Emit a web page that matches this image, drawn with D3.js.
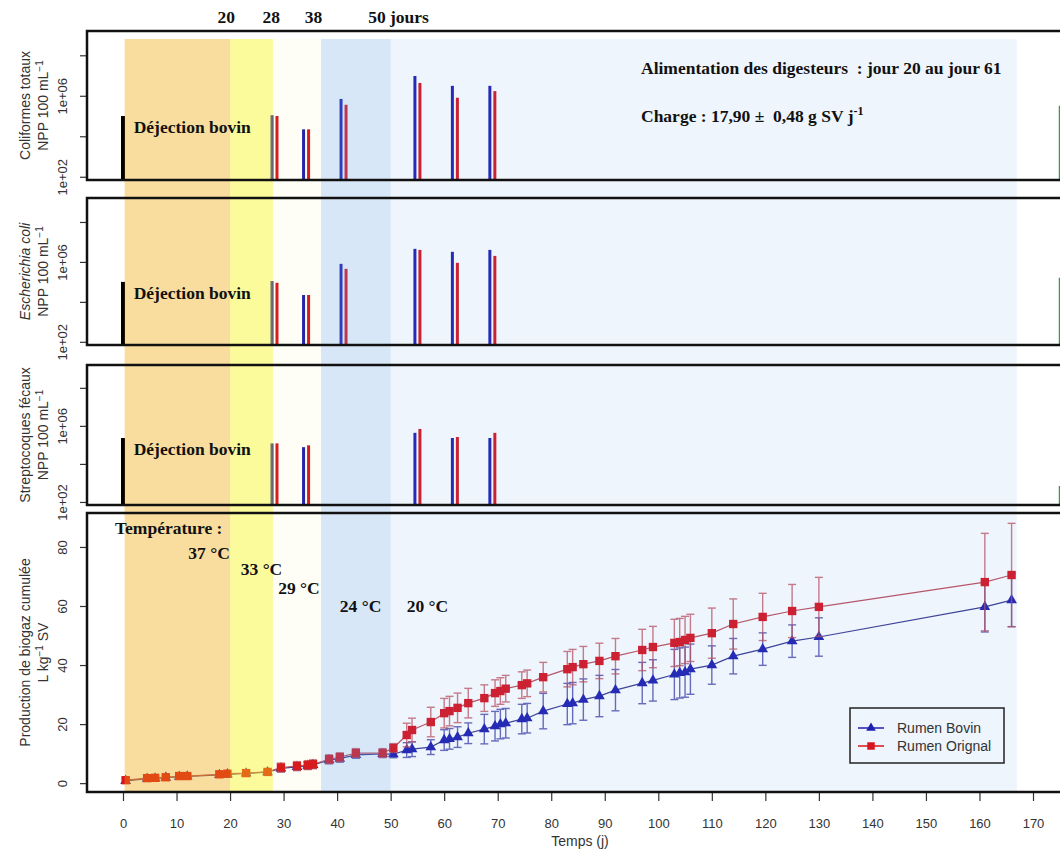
<!DOCTYPE html>
<html>
<head>
<meta charset="utf-8">
<title>Biogaz et indicateurs fécaux</title>
<style>
  body { margin: 0; background: #fff; }
  svg { display: block; }
  .axis text { font: 13px "Liberation Sans", Arial, sans-serif; fill: #333; }
  .axis line { stroke: #333; stroke-width: 1.2px; }
  .ytitle { font: 14px "Liberation Sans", Arial, sans-serif; fill: #333; }
  .note { font: bold 17.5px "Liberation Serif", "Times New Roman", serif; fill: #111; white-space: pre; }
  .legend text { font: 14px "Liberation Sans", Arial, sans-serif; fill: #333; }
</style>
</head>
<body>
<div id="chart"></div>
<script src="https://d3js.org/d3.v7.min.js"></script>
<script>
// Biogaz cumulé (L kg-1 SV) : jours de mesure, moyennes et écarts
const days = [0.5, 4.5, 6, 8, 10.5, 12, 18, 19.5, 23, 27, 29.5, 32.5, 34.5, 35.5, 38.5, 40.5, 43.5, 48.5, 50.5,
  53, 54, 57.5, 60, 61, 62.5, 64.5, 67.5, 69.5, 70.5, 71.5, 74.5, 75.5, 78.5, 83, 84, 86, 89, 92, 97, 99,
  103, 104, 105, 106, 110, 114, 119.5, 125, 130, 161, 166];
const bovinBiogaz = [0.8, 1.5, 1.6, 1.9, 2.2, 2.3, 2.8, 3.0, 3.3, 3.7, 5.0, 5.5, 5.9, 6.2, 7.8, 8.3, 9.6, 9.9, 9.8,
  11.2, 11.5, 12.2, 14.6, 15.0, 15.6, 16.9, 18.3, 19.3, 20.0, 20.3, 21.7, 22.0, 24.4, 26.8, 27.1, 28.3, 29.5, 31.5, 33.9, 34.8,
  36.8, 37.3, 37.6, 38.6, 40.0, 43.0, 45.4, 48.1, 49.5, 59.7, 62.0];
const bovinErr = [0.6, 0.6, 0.6, 0.6, 0.6, 0.6, 0.6, 0.6, 0.6, 0.6, 1.2, 1.2, 1.2, 1.2, 1.2, 1.2, 1.2, 1.2, 1.2,
  2.5, 2.5, 2.5, 3.5, 3.5, 3.5, 3.5, 5, 5, 5, 5, 5, 5, 6, 7, 7, 7, 7, 7, 7, 7,
  8.5, 8.5, 8.5, 8.5, 6.5, 6, 5.5, 5.5, 6.5, 8.5, 9];
const orignalBiogaz = [1.0, 1.7, 1.8, 2.0, 2.4, 2.4, 3.0, 3.2, 3.4, 3.8, 5.3, 5.8, 6.1, 6.4, 8.1, 8.8, 10.2, 10.2, 11.9,
  16.3, 18.0, 20.7, 23.7, 24.4, 25.5, 27.1, 28.8, 30.5, 31.2, 32.0, 33.2, 33.8, 35.9, 38.6, 39.3, 40.3, 41.4, 43.0, 45.1, 46.1,
  47.5, 47.8, 48.5, 49.2, 50.8, 53.9, 56.3, 58.3, 59.7, 68.1, 70.5];
const orignalErr = [0.8, 0.8, 0.8, 0.8, 0.8, 0.8, 0.8, 0.8, 0.8, 0.8, 1.5, 1.5, 1.5, 1.5, 1.5, 1.5, 1.5, 1.5, 1.5,
  4, 4, 5, 5, 5, 5, 5, 4.5, 4.5, 4.5, 4.5, 4.5, 4.5, 5, 6, 6, 6, 6, 6, 7, 7,
  8, 8, 8, 8, 8.5, 8.5, 8, 9, 10, 16.5, 17.5];

// Dénombrements (NPP 100 mL-1)
const sampleDays = [28.3, 34.2, 41.2, 55, 62, 69];
const dejectionDay = 0;
const extraDay = 175;
const coliDejection = 1e5;
const coliBovin = [1.1e5, 2.2e4, 7e5, 9.5e6, 3.1e6, 3.1e6];
const coliOrignal = [1e5, 2.2e4, 3.6e5, 4.3e6, 8e5, 1.7e6];
const coliExtra = 3.2e5;
const ecoliDejection = 1e5;
const ecoliBovin = [1.1e5, 2.2e4, 8e5, 4.5e6, 3.2e6, 4e6];
const ecoliOrignal = [9e4, 2.2e4, 4.5e5, 4e6, 9e5, 2e6];
const ecoliExtra = 1.6e5;
const streptoDejection = 2.3e5;
const streptoBovin = [1.2e5, 7.6e4, null, 4.3e5, 2.3e5, 2.3e5];
const streptoOrignal = [1.2e5, 9.5e4, null, 6.9e5, 2.6e5, 4.3e5];
const streptoExtra = 7e2;

// Phases de température (voiles transparents posés sur les tracés)
const phaseStart = [0.3, 20, 28, 37, 50];
const phaseEnd = [20, 28, 37, 50, 167];
const phaseColor = ["#f0a500", "#f5f500", "#f0f000", "#5f9fe3", "#5f9fe3"];
const phaseAlpha = [0.38, 0.39, 0.035, 0.25, 0.1];
const phaseDays = ["20", "28", "38", "50 jours"];
const phaseDayPos = [19.3, 27.7, 35.6, 45.8];
const tempLabels = ["37 °C", "33 °C", "29 °C", "24 °C", "20 °C"];
const tempDay = [12.2, 22, 29, 40.5, 53];
const tempValue = [76, 70.5, 64, 58, 58];

const logTicks = [1e2, 1e4, 1e6, 1e8];
const biogazTicks = [0, 20, 40, 60, 80];
const xTicks = d3.range(0, 171, 10);

const W = 1060, H = 852;
const left = 87, right = 1075;
const svg = d3.select("#chart").append("svg").attr("width", W).attr("height", H);

const x = d3.scaleLinear().domain([0, 170]).range([123, 1033]);

const panels = [
  {top: 31, bottom: 180, title: "Coliformes totaux", italic: false, dej: coliDejection, bov: coliBovin, ori: coliOrignal, extra: coliExtra},
  {top: 198, bottom: 345, title: "Escherichia coli", italic: true, dej: ecoliDejection, bov: ecoliBovin, ori: ecoliOrignal, extra: ecoliExtra},
  {top: 365, bottom: 505, title: "Streptocoques fécaux", italic: false, dej: streptoDejection, bov: streptoBovin, ori: streptoOrignal, extra: streptoExtra}
];
const bio = {top: 513, bottom: 792};
const yBio = d3.scaleLinear().domain([-3, 91.5]).range([bio.bottom, bio.top]);

const blue = "#1f1fb0", red = "#d8141f";

const dataLayer = svg.append("g");
const bandLayer = svg.append("g");
const topLayer = svg.append("g");

function rotateYLabels(g, offset) {
  g.selectAll(".tick text")
    .attr("x", null).attr("y", null).attr("dy", "0.35em")
    .attr("text-anchor", "middle")
    .attr("transform", `translate(${-offset},0) rotate(-90)`);
}

function yTitle(lines, yc) {
  lines.forEach((l, i) => {
    const t = topLayer.append("text").attr("class", "ytitle")
      .attr("text-anchor", "middle")
      .attr("transform", `translate(${30 + i * 18},${yc}) rotate(-90)`);
    l.forEach(part => {
      const s = t.append("tspan").text(part.t);
      if (part.i) s.attr("font-style", "italic");
      if (part.sup) s.attr("baseline-shift", "super").attr("font-size", "10px");
    });
  });
}

function note(g, txt, xx, yy, anchor) {
  return g.append("text").attr("class", "note")
    .attr("x", xx).attr("y", yy)
    .attr("text-anchor", anchor || "start")
    .text(txt);
}

// panneaux de dénombrement
panels.forEach(p => {
  const y = d3.scaleLog().domain([Math.pow(10, 1.84), Math.pow(10, 9.2)]).range([p.bottom, p.top]);

  const bar = (day, v, color, dx, w) => {
    if (v == null) return;
    dataLayer.append("line")
      .attr("x1", x(day) + dx).attr("x2", x(day) + dx)
      .attr("y1", p.bottom).attr("y2", y(v))
      .attr("stroke", color).attr("stroke-width", w);
  };
  bar(dejectionDay, p.dej, "#000", 0, 4);
  sampleDays.forEach((d, i) => {
    bar(d, p.bov[i], blue, -2.5, 3);
    bar(d, p.ori[i], red, 2.5, 3);
  });
  bar(extraDay, p.extra, "#3c9a3c", 0, 2);

  note(topLayer, "Déjection bovin", x(2), y(p.dej) + 17);

  const ax = topLayer.append("g").attr("class", "axis")
    .attr("transform", `translate(${left},0)`)
    .call(d3.axisLeft(y).tickValues(logTicks).tickSize(7)
      .tickFormat(d => d === 1e2 ? "1e+02" : d === 1e6 ? "1e+06" : ""));
  ax.select(".domain").remove();
  rotateYLabels(ax, 25);

  topLayer.append("rect")
    .attr("x", left).attr("y", p.top)
    .attr("width", right - left).attr("height", p.bottom - p.top)
    .attr("fill", "none").attr("stroke", "#111").attr("stroke-width", 2.5);

  yTitle([[{t: p.title, i: p.italic}], [{t: "NPP 100 mL"}, {t: "−1", sup: true}]], (p.top + p.bottom) / 2);
});

// jours de changement au-dessus du premier panneau
phaseDays.forEach((t, i) => note(topLayer, t, x(phaseDayPos[i]), 23, i === 3 ? "start" : "middle"));

// notes du panneau 1
note(topLayer, "Alimentation des digesteurs  : jour 20 au jour 61", 641, 74);
const charge = note(topLayer, "Charge : 17,90 ±  0,48 g SV j", 641, 122);
charge.append("tspan").attr("baseline-shift", "super").attr("font-size", "12px").text("-1");

// panneau biogaz
const series = [
  {name: "Rumen Bovin", vals: bovinBiogaz, err: bovinErr, color: blue, line: "#3a3a90", errColor: "#3535a0", sym: d3.symbolTriangle, size: 50},
  {name: "Rumen Orignal", vals: orignalBiogaz, err: orignalErr, color: red, line: "#c0505e", errColor: "#c04a58", sym: d3.symbolSquare, size: 70}
];
series.forEach(s => {
  const pts = days.map((d, i) => ({d, v: s.vals[i], e: s.err[i]}));
  dataLayer.append("path").datum(pts)
    .attr("fill", "none").attr("stroke", s.line).attr("stroke-width", 1.2)
    .attr("d", d3.line().x(p => x(p.d)).y(p => yBio(p.v)));
  const eb = dataLayer.append("g").attr("stroke", s.errColor).attr("stroke-width", 1.4).attr("opacity", 0.75);
  pts.forEach(p => {
    const cx = x(p.d), y1 = yBio(p.v - p.e), y2 = yBio(p.v + p.e);
    eb.append("line").attr("x1", cx).attr("x2", cx).attr("y1", y1).attr("y2", y2);
    eb.append("line").attr("x1", cx - 4).attr("x2", cx + 4).attr("y1", y1).attr("y2", y1);
    eb.append("line").attr("x1", cx - 4).attr("x2", cx + 4).attr("y1", y2).attr("y2", y2);
  });
  dataLayer.selectAll(null).data(pts).enter().append("path")
    .attr("transform", p => `translate(${x(p.d)},${yBio(p.v)})`)
    .attr("d", d3.symbol().type(s.sym).size(s.size))
    .attr("fill", s.color);
});

// voiles des phases
phaseStart.forEach((s, i) => {
  bandLayer.append("rect")
    .attr("x", x(s)).attr("width", x(phaseEnd[i]) - x(s))
    .attr("y", 39).attr("height", bio.bottom - 39)
    .attr("fill", phaseColor[i]).attr("fill-opacity", phaseAlpha[i]);
});

// températures
note(topLayer, "Température :", 115, 534);
tempLabels.forEach((t, i) => note(topLayer, t, x(tempDay[i]), yBio(tempValue[i])));

const axY = topLayer.append("g").attr("class", "axis")
  .attr("transform", `translate(${left},0)`)
  .call(d3.axisLeft(yBio).tickValues(biogazTicks).tickSize(7));
axY.select(".domain").remove();
rotateYLabels(axY, 25);

const axX = topLayer.append("g").attr("class", "axis")
  .attr("transform", `translate(0,${bio.bottom})`)
  .call(d3.axisBottom(x).tickValues(xTicks).tickSize(9).tickPadding(18));
axX.select(".domain").remove();

topLayer.append("rect")
  .attr("x", left).attr("y", bio.top)
  .attr("width", right - left).attr("height", bio.bottom - bio.top)
  .attr("fill", "none").attr("stroke", "#111").attr("stroke-width", 2.5);

yTitle([[{t: "Production de biogaz cumulée"}], [{t: "L kg"}, {t: "−1", sup: true}, {t: " SV"}]], (bio.top + bio.bottom) / 2);

topLayer.append("text").attr("class", "ytitle")
  .attr("x", 580).attr("y", 846).attr("text-anchor", "middle")
  .attr("font-size", "13px")
  .text("Temps (j)");

// légende
const lg = topLayer.append("g").attr("class", "legend").attr("transform", "translate(850,708)");
lg.append("rect").attr("width", 154).attr("height", 55)
  .attr("fill", "#eef5fc").attr("stroke", "#222").attr("stroke-width", 1.5);
series.forEach((s, i) => {
  const yy = 20 + i * 18;
  lg.append("line").attr("x1", 8).attr("x2", 34).attr("y1", yy).attr("y2", yy)
    .attr("stroke", s.color).attr("stroke-width", 1.5);
  lg.append("path").attr("transform", `translate(21,${yy})`)
    .attr("d", d3.symbol().type(s.sym).size(s.size * 0.8)).attr("fill", s.color);
  lg.append("text").attr("x", 47).attr("y", yy + 5).text(s.name);
});
</script>
</body>
</html>
